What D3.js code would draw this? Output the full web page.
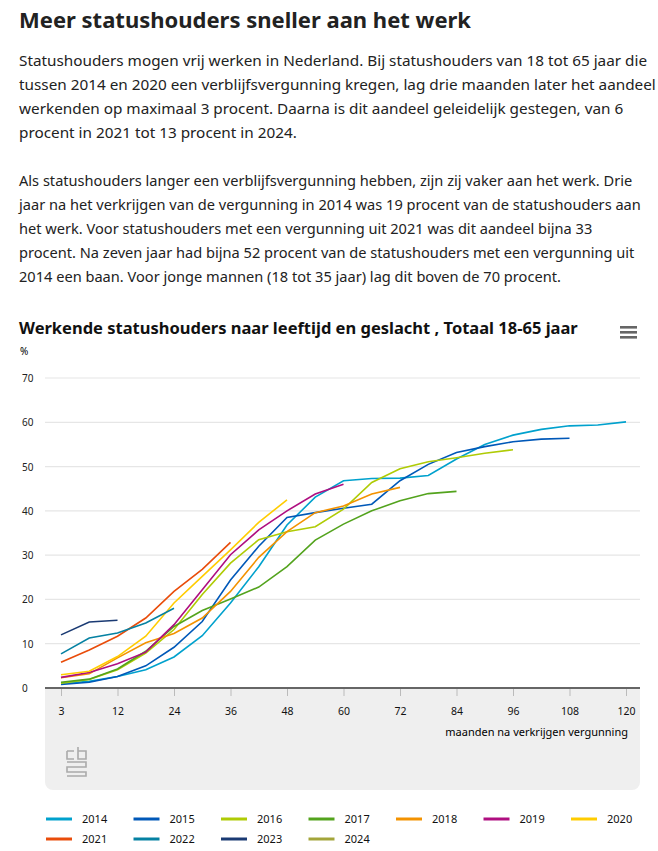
<!DOCTYPE html>
<html><head><meta charset="utf-8">
<script src="https://cdn.jsdelivr.net/npm/d3@7"></script>
<style>
body{margin:0;background:#fff;font-family:"Noto Sans",sans-serif;color:#222;}
#wrap{position:relative;width:658px;height:851px;}
h1{position:absolute;left:19px;top:4px;margin:0;font-size:22px;font-weight:bold;}
.p{position:absolute;left:19px;font-size:15.3px;line-height:24px;white-space:nowrap;}
svg{position:absolute;left:0;top:0;}
</style></head><body>
<div id="wrap">
<h1>Meer statushouders sneller aan het werk</h1>
<div class="p" style="top:48px">Statushouders mogen vrij werken in Nederland. Bij statushouders van 18 tot 65 jaar die<br>tussen 2014 en 2020 een verblijfsvergunning kregen, lag drie maanden later het aandeel<br>werkenden op maximaal 3 procent. Daarna is dit aandeel geleidelijk gestegen, van 6<br>procent in 2021 tot 13 procent in 2024.</div>
<div class="p" style="top:168px;font-size:14.6px">Als statushouders langer een verblijfsvergunning hebben, zijn zij vaker aan het werk. Drie<br>jaar na het verkrijgen van de vergunning in 2014 was 19 procent van de statushouders aan<br>het werk. Voor statushouders met een vergunning uit 2021 was dit aandeel bijna 33<br>procent. Na zeven jaar had bijna 52 procent van de statushouders met een vergunning uit<br>2014 een baan. Voor jonge mannen (18 tot 35 jaar) lag dit boven de 70 procent.</div>
<div id="chart"></div>
</div>
<script>
const months = [3,6,12,18,24,30,36,42,48,54,60,66,72,78,84,90,96,102,108,114,120];
const tickMonths = [3,12,24,36,48,60,72,84,96,108,120];
const yTicks = [0,10,20,30,40,50,60,70];
const years = ["2014","2015","2016","2017","2018","2019","2020","2021","2022","2023","2024"];
const colors = ["#00a1cd","#0058b8","#afcb05","#53a31d","#f39200","#af0e80","#ffcc00","#e94c0a","#0581a2","#1a3a73","#a3a53a"];
const v2014 = [1.0,1.5,2.6,4.1,7.0,11.8,19.2,27.4,36.8,43.1,46.8,47.3,47.4,48.0,51.7,55.0,57.1,58.4,59.2,59.4,60.1];
const v2015 = [0.8,1.3,2.6,5.0,9.2,15.0,24.4,32.0,38.5,39.6,40.6,41.5,46.8,50.5,53.2,54.5,55.6,56.2,56.4];
const v2016 = [1.1,1.9,4.1,7.9,13.2,21.1,28.2,33.5,35.3,36.4,40.4,46.4,49.5,51.1,52.0,53.0,53.8];
const v2017 = [1.3,2.0,4.3,8.3,13.9,17.5,20.1,22.8,27.4,33.4,37.0,40.0,42.3,43.9,44.4];
const v2018 = [2.3,3.2,6.8,10.2,12.3,15.8,21.8,29.5,35.3,39.6,41.1,43.8,45.3];
const v2019 = [2.4,3.5,5.5,8.1,14.3,22.2,30.1,35.7,40.0,43.8,46.0];
const v2020 = [3.0,3.8,7.1,11.7,19.2,25.2,31.2,37.4,42.5];
const v2021 = [5.8,8.6,11.7,15.8,21.8,26.8,32.9];
const v2022 = [7.7,11.3,12.4,14.7,18.0];
const v2023 = [12.0,14.9,15.3];
const v2024 = [13.0];
const series = [v2014,v2015,v2016,v2017,v2018,v2019,v2020,v2021,v2022,v2023,v2024];

const svg = d3.select("#chart").append("svg").attr("width",658).attr("height",851)
  .style("font-family","'Noto Sans',sans-serif");

svg.append("text").attr("x",19).attr("y",334).attr("font-size",16.5).attr("font-weight","bold")
  .attr("fill","#111").text("Werkende statushouders naar leeftijd en geslacht , Totaal 18-65 jaar");
// menu icon
[0,5,10].forEach(d => svg.append("rect").attr("x",620).attr("y",326+d).attr("width",17).attr("height",2.6).attr("fill","#666"));

// grey box below axis
svg.append("rect").attr("x",45).attr("y",680).attr("width",595).attr("height",110).attr("rx",8).attr("fill","#efefef");
svg.append("rect").attr("x",45).attr("y",370).attr("width",595).attr("height",318).attr("fill","#fff");

const x = d3.scalePoint().domain(months).range([61,626]);
const y = d3.scaleLinear().domain([0,70]).range([688,378]);

svg.append("g").selectAll("line").data(yTicks.slice(1)).join("line")
  .attr("x1",45).attr("x2",640).attr("y1",d=>y(d)).attr("y2",d=>y(d))
  .attr("stroke","#e6e6e6").attr("stroke-width",1.2);
svg.append("g").selectAll("text").data(yTicks).join("text")
  .attr("x",22).attr("y",d=>y(d)+4).attr("font-size",10).attr("fill","#222").text(d=>d);
svg.append("text").attr("x",20).attr("y",355).attr("font-size",10).text("%");

const ax = svg.append("g").attr("transform","translate(0,688)")
  .call(d3.axisBottom(x).tickValues(tickMonths).tickSize(8).tickPadding(12));
ax.select(".domain").remove();
ax.selectAll(".tick line").attr("stroke","#bbb");
ax.selectAll(".tick text").attr("font-size",10.5).attr("fill","#111").attr("font-family","'Noto Sans',sans-serif");
svg.append("line").attr("x1",45).attr("x2",640).attr("y1",688).attr("y2",688).attr("stroke","#666").attr("stroke-width",2);
svg.append("text").attr("x",628).attr("y",736).attr("text-anchor","end").attr("font-size",11).text("maanden na verkrijgen vergunning");

// cbs logo
const lg = svg.append("g").attr("fill","none").attr("stroke","#aaa").attr("stroke-width",1.6);
lg.append("path").attr("d","M67 751 h7 M67 751 v8 h7 M78 747 v12 h8 v-8 h-8 M67 762 h19 v5 h-19 v5 h19 v4 h-19");

const line = d3.line().x((d,i)=>x(months[i])).y(d=>y(d));
series.forEach((s,i) => {
  svg.append("path").datum(s).attr("d",line).attr("fill","none")
    .attr("stroke",colors[i]).attr("stroke-width",1.6);
});

// legend
const leg = svg.append("g").selectAll("g").data(years).join("g")
  .attr("transform",(d,i)=>`translate(${46+(i%7)*87.5},${819+Math.floor(i/7)*20})`);
leg.append("line").attr("x1",0).attr("x2",26).attr("stroke",(d,i)=>colors[i]).attr("stroke-width",3);
leg.append("text").attr("x",36).attr("y",4).attr("font-size",11).attr("fill","#111").text(d=>d);
</script>
</body></html>
